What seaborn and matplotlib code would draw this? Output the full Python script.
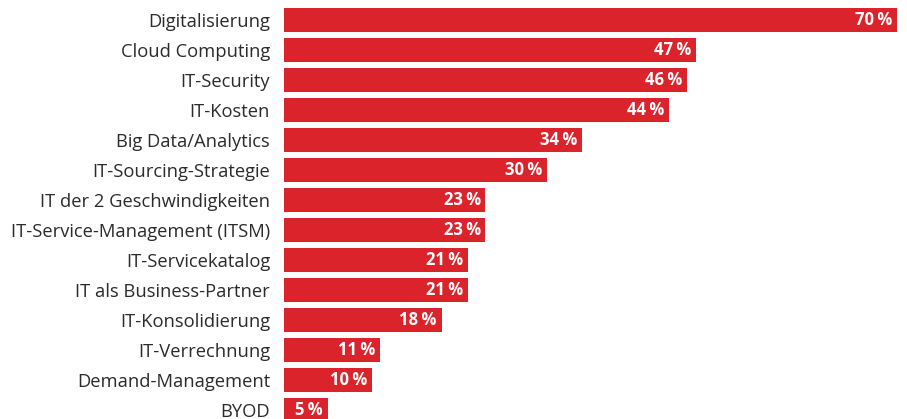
import matplotlib
matplotlib.use("Agg")
import matplotlib.pyplot as plt
import seaborn as sns
import pandas as pd

categories = ["Digitalisierung", "Cloud Computing", "IT-Security", "IT-Kosten",
              "Big Data/Analytics", "IT-Sourcing-Strategie", "IT der 2 Geschwindigkeiten",
              "IT-Service-Management (ITSM)", "IT-Servicekatalog", "IT als Business-Partner",
              "IT-Konsolidierung", "IT-Verrechnung", "Demand-Management", "BYOD"]
values = [70, 47, 46, 44, 34, 30, 23, 23, 21, 21, 18, 11, 10, 5]

df = pd.DataFrame({"Thema": categories, "Anteil": values})

sns.set_theme(style="white")
plt.rcParams['font.family'] = ['Open Sans', 'DejaVu Sans']

W, H = 907, 419
fig = plt.figure(figsize=(W / 100, H / 100), dpi=100)
ax = fig.add_axes([284 / W, 0, (W - 284) / W, 1])

red = "#DA232B"
sns.barplot(data=df, x="Anteil", y="Thema", color=red, width=0.8,
            saturation=1, ax=ax, edgecolor="none")

ax.set_xlim(0, 623 / 8.76)
ax.set_ylim(13.29, -0.68)
for s in ax.spines.values():
    s.set_visible(False)
ax.set_xlabel("")
ax.set_ylabel("")
ax.set_xticks([])
ax.tick_params(axis="y", length=0, pad=10, labelsize=13.2, labelcolor="#2b2b2b")

for i, v in enumerate(values):
    ax.text(v - 0.55, i, f"{v}\u2009%", ha="right", va="center",
            color="white", fontsize=12, fontweight="bold")

fig.savefig("out.png", dpi=100)
